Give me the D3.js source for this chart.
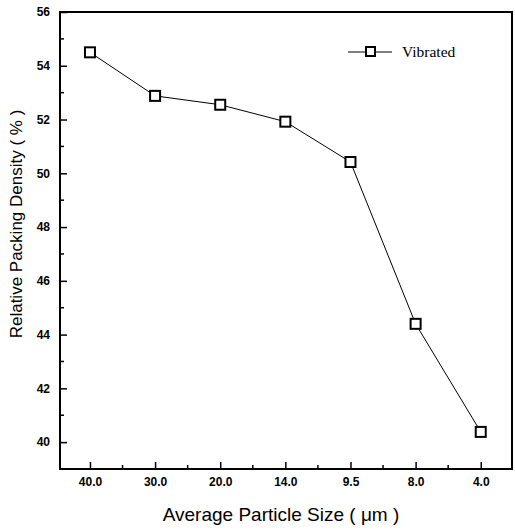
<!DOCTYPE html>
<html>
<head>
<meta charset="utf-8">
<script src="https://cdn.jsdelivr.net/npm/d3@7"></script>
<style>
  body { margin: 0; background: #fff; }
  svg { display: block; }
  .tick text { font-family: "Liberation Sans", Arial, sans-serif; font-weight: bold; font-size: 12px; fill: #000; }
</style>
</head>
<body>
<svg id="chart" width="515" height="531"></svg>
<script>
// data
const sizes = ['40.0', '30.0', '20.0', '14.0', '9.5', '8.0', '4.0'];
const density = [54.5, 52.88, 52.55, 51.92, 50.42, 44.4, 40.38];
const yTicks = [40, 42, 44, 46, 48, 50, 52, 54, 56];
const seriesName = 'Vibrated';

const plotL = 60, plotR = 512, plotT = 12, plotB = 469;
const svg = d3.select('#chart');

const x = d3.scaleLinear().domain([-0.46, 6.48]).range([plotL, plotR]);
const y = d3.scaleLinear().domain([39, 56]).range([plotB, plotT]);

// frame
svg.append('rect')
  .attr('x', plotL).attr('y', plotT)
  .attr('width', plotR - plotL).attr('height', plotB - plotT)
  .attr('fill', 'none').attr('stroke', '#000').attr('stroke-width', 2);

// y axis, ticks pointing inward
const yAxis = d3.axisLeft(y).tickValues(yTicks).tickSize(-7).tickPadding(10)
  .tickFormat(d3.format('d'));
const gy = svg.append('g').attr('transform', `translate(${plotL},0)`).call(yAxis);
gy.select('.domain').remove();
gy.selectAll('.tick line').attr('stroke-width', 1.5);

// y minor ticks
svg.append('g').selectAll('line')
  .data(d3.range(41, 56, 2))
  .join('line')
  .attr('x1', plotL).attr('x2', plotL + 4)
  .attr('y1', d => y(d)).attr('y2', d => y(d))
  .attr('stroke', '#000').attr('stroke-width', 1.5);

// x axis
const xAxis = d3.axisBottom(x).tickValues(d3.range(sizes.length)).tickSize(-7).tickPadding(8)
  .tickFormat(i => sizes[i]);
const gx = svg.append('g').attr('transform', `translate(0,${plotB})`).call(xAxis);
gx.select('.domain').remove();
gx.selectAll('.tick line').attr('stroke-width', 1.5);

// x minor ticks
svg.append('g').selectAll('line')
  .data(d3.range(sizes.length - 1).map(i => i + 0.5))
  .join('line')
  .attr('x1', d => x(d)).attr('x2', d => x(d))
  .attr('y1', plotB).attr('y2', plotB - 4)
  .attr('stroke', '#000').attr('stroke-width', 1.5);

// line + markers
const line = d3.line().x((d, i) => x(i)).y(d => y(d));
svg.append('path')
  .datum(density)
  .attr('d', line)
  .attr('fill', 'none').attr('stroke', '#000').attr('stroke-width', 1);

svg.append('g').selectAll('rect')
  .data(density)
  .join('rect')
  .attr('x', (d, i) => x(i) - 5).attr('y', d => y(d) - 5)
  .attr('width', 10).attr('height', 10)
  .attr('fill', '#fff').attr('stroke', '#000').attr('stroke-width', 2);

// legend
const lg = svg.append('g');
lg.append('line').attr('x1', 348).attr('x2', 392).attr('y1', 52).attr('y2', 52)
  .attr('stroke', '#000').attr('stroke-width', 1);
lg.append('rect').attr('x', 366).attr('y', 47).attr('width', 9).attr('height', 9)
  .attr('fill', '#fff').attr('stroke', '#000').attr('stroke-width', 2);
lg.append('text').attr('x', 402).attr('y', 57)
  .attr('font-family', '"Liberation Serif", "Times New Roman", serif')
  .attr('font-size', 15.5).text(seriesName);

// axis titles
svg.append('text')
  .attr('x', 281).attr('y', 521)
  .attr('text-anchor', 'middle')
  .attr('font-family', '"Liberation Sans", Arial, sans-serif')
  .attr('font-size', 19)
  .text('Average Particle Size ( μm )');

svg.append('text')
  .attr('transform', 'translate(22,224) rotate(-90)')
  .attr('text-anchor', 'middle')
  .attr('font-family', '"Liberation Sans", Arial, sans-serif')
  .attr('font-size', 17)
  .text('Relative Packing Density ( % )');
</script>
</body>
</html>
